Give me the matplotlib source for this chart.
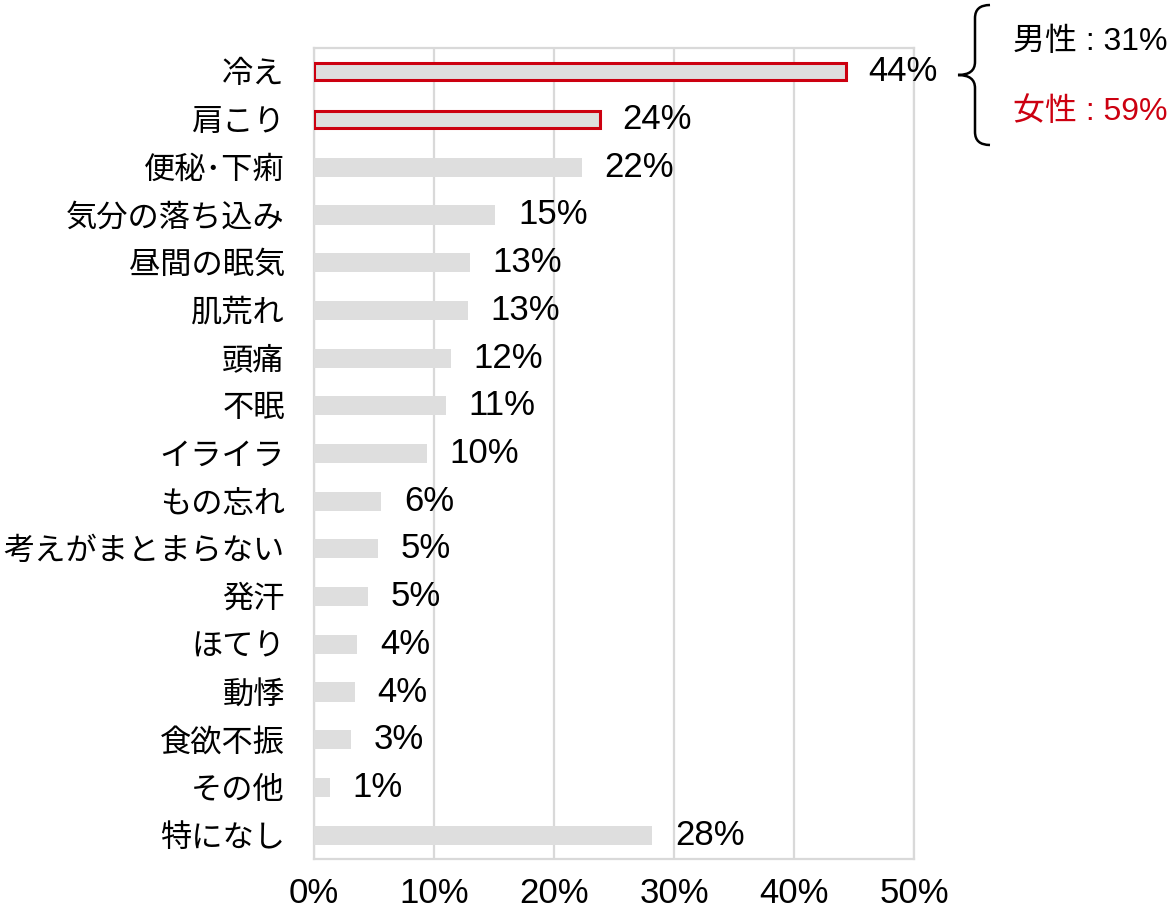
import matplotlib
matplotlib.use("Agg")
import matplotlib.pyplot as plt
from matplotlib.path import Path
from matplotlib.patches import PathPatch

plt.rcParams['font.family'] = ['Liberation Sans', 'Noto Sans CJK JP', 'DejaVu Sans']

categories = ["冷え", "肩こり", "便秘･下痢", "気分の落ち込み", "昼間の眠気", "肌荒れ",
              "頭痛", "不眠", "イライラ", "もの忘れ", "考えがまとまらない", "発汗",
              "ほてり", "動悸", "食欲不振", "その他", "特になし"]
values = [44, 24, 22, 15, 13, 13, 12, 11, 10, 6, 5, 5, 4, 4, 3, 1, 28]
bar_len = [44.3, 23.8, 22.3, 15.1, 13.0, 12.8, 11.4, 11.0, 9.4, 5.6, 5.3, 4.5,
           3.6, 3.4, 3.1, 1.3, 28.2]
highlight = ["冷え", "肩こり"]
gender_labels = ["男性 : 31%", "女性 : 59%"]

W, H = 1170, 913
fig = plt.figure(figsize=(W / 100, H / 100), dpi=100)
ax = fig.add_axes([314 / W, 1 - 859 / H, 600 / W, (859 - 48) / H])

grid_c = "#d9d9d9"
red = "#cc0010"
y = list(range(len(categories)))
for i, (cat, v) in enumerate(zip(categories, bar_len)):
    if cat in highlight:
        ax.barh(i, v, height=0.36, color="#dedede", edgecolor=red, linewidth=2.2, zorder=3)
    else:
        ax.barh(i, v, height=0.40, color="#dedede", linewidth=0, zorder=3)
    ax.text(v + 1.9, i, f"{values[i]}%", va="center", ha="left", fontsize=25, color="black")

ax.set_xlim(0, 50)
ax.set_ylim(len(categories) - 0.5, -0.5)
ax.set_xticks(range(0, 51, 10))
ax.set_xticklabels([f"{t}%" for t in range(0, 51, 10)], fontsize=25)
ax.set_yticks(y)
ax.set_yticklabels(categories, fontsize=22.5)
ax.tick_params(axis="y", length=0, pad=21)
ax.tick_params(axis="x", length=0, pad=13)
ax.xaxis.grid(True, color=grid_c, linewidth=1.6, zorder=0)
ax.set_axisbelow(True)
for s in ax.spines.values():
    s.set_color(grid_c)
    s.set_linewidth(1.6)


# bracket in figure pixel coords
def fp(px, py):
    return (px / W, 1 - py / H)


verts = [fp(990, 5), fp(975, 5), fp(975, 18),
         fp(975, 62),
         fp(975, 75), fp(958, 75),
         fp(975, 75), fp(975, 88),
         fp(975, 132),
         fp(975, 145), fp(990, 145)]
codes = [Path.MOVETO, Path.CURVE3, Path.CURVE3,
         Path.LINETO,
         Path.CURVE3, Path.CURVE3,
         Path.CURVE3, Path.CURVE3,
         Path.LINETO,
         Path.CURVE3, Path.CURVE3]
fig.add_artist(PathPatch(Path(verts, codes), transform=fig.transFigure,
                         facecolor="none", edgecolor="black", linewidth=1.8))

fig.text(1013 / W, 1 - 42 / H, gender_labels[0], fontsize=23, color="black", va="center", ha="left")
fig.text(1013 / W, 1 - 112 / H, gender_labels[1], fontsize=23, color=red, va="center", ha="left")

fig.savefig("out.png", dpi=100)
